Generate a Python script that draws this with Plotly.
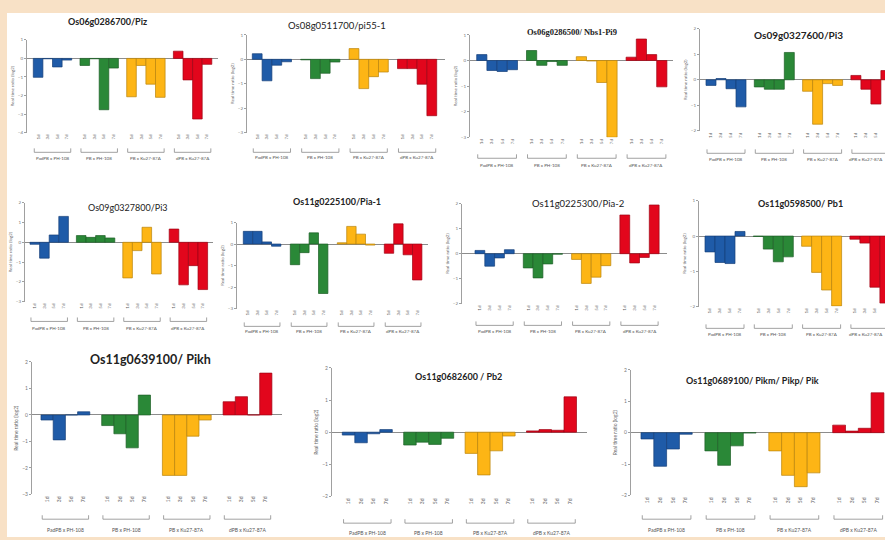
import plotly.graph_objects as go

W, H = 885, 540

# ---- data -------------------------------------------------------------
titles = [
    "Os06g0286700/Piz",
    "Os08g0511700/pi55-1",
    "Os06g0286500/ Nbs1-Pi9",
    "Os09g0327600/Pi3",
    "Os09g0327800/Pi3",
    "Os11g0225100/Pia-1",
    "Os11g0225300/Pia-2",
    "Os11g0598500/ Pb1",
    "Os11g0639100/ Pikh",
    "Os11g0682600 / Pb2",
    "Os11g0689100/ Pikm/ Pikp/ Pik",
]
crosses = ["PadPB x PH-108", "PB x PH-108", "PB x Ku27-87A", "dPB x Ku27-87A"]
timepoints = ["1d", "3d", "5d", "7d"]
y_title = "Real time ratio (log2)"

# log2 expression ratios, 4 time points per cross
piz      = [-1.02, -0.02, -0.46, -0.09, -0.38, -0.02, -2.77, -0.52, -2.07, -0.38, -1.39, -2.10, 0.39, -1.16, -3.27, -0.32]
pi55_1   = [0.23, -0.88, -0.24, -0.10, -0.02, -0.79, -0.57, -0.11, 0.44, -1.20, -0.71, -0.52, -0.38, -0.38, -1.02, -2.31]
nbs1_pi9 = [0.23, -0.39, -0.43, -0.36, 0.39, -0.19, -0.04, -0.19, 0.15, -0.02, -0.86, -3.00, 0.13, 0.84, 0.23, -1.03]
pi3_a    = [-0.22, 0.05, -0.35, -1.06, -0.28, -0.37, -0.37, 1.07, -0.45, -1.74, -0.15, -0.22, 0.17, -0.37, -0.95, 0.36]
pi3_b    = [-0.10, -0.80, 0.37, 1.31, 0.34, 0.25, 0.34, 0.22, -1.80, -0.42, 0.76, -1.60, 0.67, -2.15, -1.18, -2.39]
pia_1    = [0.59, 0.59, 0.10, -0.10, -0.96, -0.40, 0.52, -2.30, 0.06, 0.82, 0.46, -0.05, -0.43, 0.94, -0.50, -1.67]
pia_2    = [0.13, -0.50, -0.17, 0.16, -0.57, -0.97, -0.41, -0.02, -0.23, -1.19, -0.94, -0.48, 1.55, -0.37, -0.15, 1.95]
pb1      = [-0.45, -0.75, -0.78, 0.13, -0.01, -0.37, -0.73, -0.59, -0.29, -1.03, -1.53, -1.98, -0.09, -0.20, -1.45, -1.90]
pikh     = [-0.19, -0.94, 0.00, 0.12, -0.40, -0.71, -1.24, 0.75, -2.28, -2.28, -0.80, -0.19, 0.50, 0.69, 0.00, 1.58]
pb2      = [-0.09, -0.33, -0.05, 0.08, -0.40, -0.31, -0.38, -0.19, -0.66, -1.33, -0.58, -0.12, 0.04, 0.08, 0.06, 1.10]
pik      = [-0.20, -1.07, -0.52, -0.05, -0.58, -1.04, -0.42, -0.01, -0.58, -1.36, -1.72, -1.28, 0.24, 0.05, 0.14, 1.27]

series = [piz, pi55_1, nbs1_pi9, pi3_a, pi3_b, pia_1, pia_2, pb1, pikh, pb2, pik]
y_limits = [(-4, 1), (-3, 1), (-3, 1), (-2, 2), (-3, 2), (-3, 1),
            (-2, 2), (-2, 1), (-3, 2), (-2, 2), (-2, 2)]

# ---- styling ----------------------------------------------------------
fills = ["#1F5BA8", "#2A8837", "#FDB515", "#E2061C"]
edges = ["#163F78", "#1D5E26", "#B9840C", "#9E0414"]

# panel geometry in pixels:
# axis x, right end, top tick y, bottom tick y, first bar left, bar width,
# group pitch, title x, title y, title size, title family, title weight,
# bracket y, cross label y, small text size
frames = [
    (27, 218, 37.3, 131, 33.3, 9.6, 46.7, 107, 19, 9, "Lato", "bold", 151, 157, 4.5),
    (247, 445, 32.3, 131, 252.3, 9.8, 48.4, 337, 23, 9.5, "Lato", "normal", 151, 156, 4.5),
    (470, 673, 32.3, 135.7, 476.7, 10.2, 49.8, 572, 29, 8.5, "Liberation Serif", "bold", 157, 164, 4.5),
    (700, 885, 26, 129.3, 706, 10.0, 48.3, 798, 32, 10, "Lato", "bold", 152, 158, 4.5),
    (25, 213, 202, 302, 30, 9.6, 46.4, 128, 207, 9, "Lato", "normal", 322, 329, 4.5),
    (237, 428, 222, 309, 243.3, 9.4, 47.0, 337, 201, 9, "Lato", "bold", 327, 332, 4.5),
    (462, 667, 203, 304, 475, 9.8, 48.3, 578, 203, 9.5, "Lato", "normal", 326, 332, 4.5),
    (699, 885, 200, 307, 705, 10.0, 48.3, 800, 203, 9, "Lato", "bold", 329, 335, 4.5),
    (32, 282, 363, 497, 41, 12.2, 60.7, 150, 360, 12.5, "Lato", "bold", 522, 533, 5),
    (332, 587, 369, 499, 342.3, 12.5, 61.4, 458, 378, 9, "Lato", "bold", 526, 536, 5),
    (631, 885, 371, 498, 641, 12.8, 63.9, 752, 382, 9, "Lato", "bold", 522, 533, 5),
]

fig = go.Figure()
layout = dict(
    width=W, height=H, margin=dict(l=0, r=0, t=0, b=0),
    paper_bgcolor="#F8E1C6", plot_bgcolor="rgba(0,0,0,0)",
    barmode="overlay", showlegend=False,
    font=dict(family="Lato", color="#444"),
)
shapes = [dict(type="rect", xref="paper", yref="paper",
               x0=7 / W, x1=1, y0=0, y1=1 - 10 / H,
               fillcolor="white", line=dict(width=0), layer="below")]
annotations = []

for k, (vals, (ylo, yhi), fr) in enumerate(zip(series, y_limits, frames), start=1):
    (ax_x, right, y_top, y_bot, first, bw, pitch, tx, ty, tsize, tfam, tw,
     brk_y, lbl_y, fsz) = fr
    P = pitch / bw
    x0 = -0.5 - (first - ax_x) / bw
    x1 = x0 + (right - ax_x) / bw
    xs = [g * P + i for g in range(4) for i in range(4)]
    xn, yn = f"x{k}", f"y{k}"
    sfx = "" if k == 1 else str(k)

    for g in range(4):
        fig.add_bar(
            x=xs[g * 4:(g + 1) * 4], y=vals[g * 4:(g + 1) * 4], width=1,
            marker=dict(color=fills[g], line=dict(color=edges[g], width=0.7)),
            xaxis=xn, yaxis=yn, hoverinfo="x+y",
        )

    layout["xaxis" + sfx] = dict(
        domain=[ax_x / W, min(right / W, 1.0)], range=[x0, x1], anchor=yn,
        showline=False, showgrid=False, zeroline=False, ticks="",
        tickmode="array", tickvals=xs, ticktext=timepoints * 4, tickangle=-90,
        tickfont=dict(size=fsz, color="#666"), fixedrange=True,
    )
    layout["yaxis" + sfx] = dict(
        domain=[1 - y_bot / H, 1 - y_top / H], range=[ylo, yhi], anchor=xn,
        dtick=1, showline=True, linecolor="#A0A0A0", linewidth=1,
        ticks="outside", ticklen=2, tickcolor="#A0A0A0",
        tickfont=dict(size=fsz, color="#777"), showgrid=False,
        zeroline=True, zerolinecolor="#8C8C8C", zerolinewidth=1,
        title=dict(text=y_title, font=dict(size=fsz, color="#666"), standoff=3),
        fixedrange=True,
    )

    annotations.append(dict(
        text=titles[k - 1], x=tx / W, y=1 - ty / H, xref="paper", yref="paper",
        xanchor="center", yanchor="middle", showarrow=False,
        font=dict(family=tfam, size=tsize, color="#222", weight=tw),
    ))

    # brackets and cross labels under each group of four bars
    yb = 1 - brk_y / H
    yt = 1 - (brk_y - 4) / H
    half_label = len(crosses[3]) * fsz * 0.27
    for g in range(4):
        a = g * P - 0.5 + 0.1
        b = g * P + 3.5 - 0.1
        shapes.append(dict(
            type="path", xref=xn, yref="paper",
            path=f"M {a},{yt} L {a},{yb} L {b},{yb} L {b},{yt}",
            line=dict(color="#8A8A8A", width=0.8),
        ))
        cx = first + g * pitch + 2 * bw
        cx = min(cx, W - 2 - half_label)
        annotations.append(dict(
            text=crosses[g], x=cx / W, y=1 - lbl_y / H, xref="paper", yref="paper",
            xanchor="center", yanchor="middle", showarrow=False,
            font=dict(size=fsz, color="#555"),
        ))

layout["shapes"] = shapes
layout["annotations"] = annotations
fig.update_layout(**layout)
fig.write_html("out.html")
